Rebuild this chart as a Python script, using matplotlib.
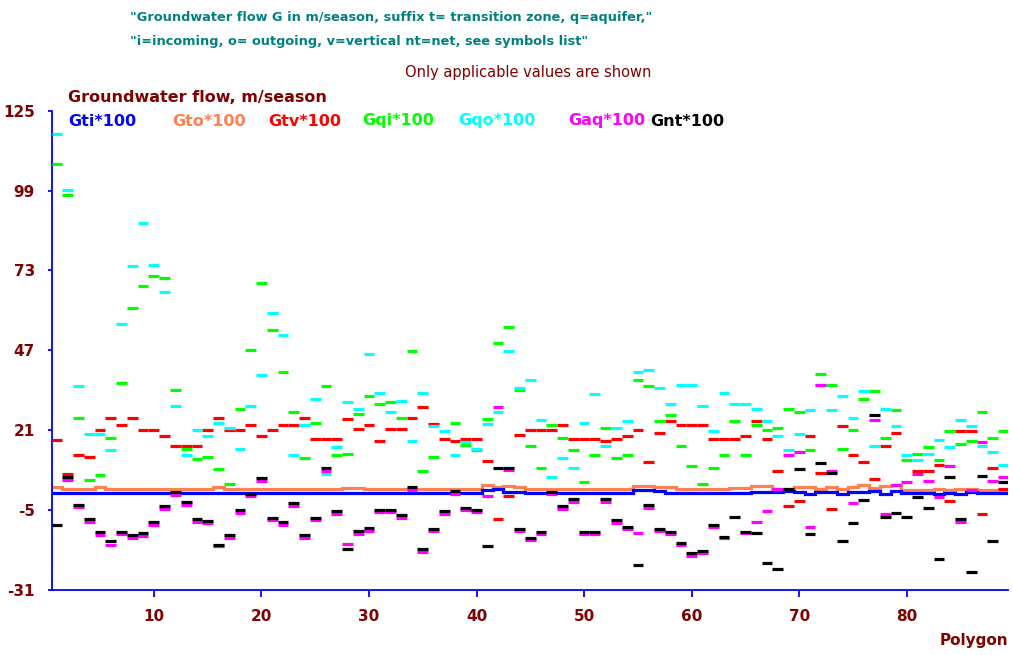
import numpy as np
import matplotlib
matplotlib.use("Agg")
import matplotlib.pyplot as plt

plt.rcParams["axes.unicode_minus"] = False

nan = np.nan

# polygon numbers
polygons = np.arange(1, 90)

# values (m/season * 100)
gti = [0.6, 0.6, 0.6, 0.6, 0.6, 0.6, 0.6, 0.6, 0.6, 0.6,
       0.6, 0.6, 0.6, 0.6, 0.6, 0.6, 0.6, 0.6, 0.6, 0.6,
       0.6, 0.6, 0.6, 0.6, 0.6, 0.6, 0.6, 0.6, 0.6, 0.6,
       0.6, 0.6, 0.6, 0.6, 0.6, 0.6, 0.6, 0.6, 0.6, 0.6,
       1.7, 2.0, 1.0, 1.0, 0.6, 0.6, 0.6, 0.6, 0.6, 0.6,
       0.6, 0.6, 0.6, 0.6, 1.7, 1.7, 1.2, 0.6, 0.6, 0.6,
       0.6, 0.6, 0.6, 0.6, 0.6, 1.0, 1.0, 1.0, 1.3, 1.0,
       0.4, 1.0, 1.0, 0.4, 1.0, 1.0, 1.3, 0.4, 1.3, 0.6,
       0.6, 0.6, 0.2, 0.6, 0.4, 1.0, 0.6, 0.6, 0.6]

gto = [2.4, 1.9, 1.9, 1.9, 2.4, 1.9, 1.9, 1.9, 1.9, 1.9,
       1.9, 1.9, 1.9, 1.9, 1.9, 2.4, 1.9, 1.9, 1.9, 1.9,
       1.9, 1.9, 1.9, 1.9, 1.9, 1.9, 1.9, 2.3, 2.3, 1.9,
       1.9, 1.9, 1.9, 1.9, 1.9, 1.9, 1.9, 1.9, 1.9, 1.9,
       3.2, 2.6, 3.0, 2.6, 1.8, 1.8, 1.8, 1.8, 1.8, 1.8,
       1.8, 1.8, 1.8, 1.8, 2.8, 2.8, 2.4, 2.4, 1.8, 1.8,
       1.8, 1.8, 1.8, 2.2, 2.2, 2.8, 2.8, 2.0, 2.0, 2.6,
       2.6, 1.8, 2.6, 2.0, 2.6, 3.1, 2.3, 2.8, 3.1, 1.7,
       1.7, 1.7, 2.0, 1.7, 2.0, 2.0, 1.7, 1.7, 1.7]

gtv = [17.8, 6.9, 13.0, 12.4, 21.2, 24.9, 22.8, 24.9, 21.2, 21.2,
       19.2, 16.0, 16.0, 16.0, 21.2, 24.9, 21.2, 21.2, 22.8, 19.2,
       21.2, 22.8, 22.8, 25.0, 18.2, 18.2, 18.2, 24.5, 21.3, 22.8,
       17.6, 21.3, 21.3, 25.0, 28.6, 23.0, 18.2, 17.6, 18.2, 18.2,
       10.9, -7.8, -0.4, 19.3, 21.2, 21.2, 21.2, 22.7, 18.2, 18.2,
       18.2, 17.6, 18.2, 19.2, 21.2, 10.8, 20.2, 23.9, 22.8, 22.8,
       22.8, 18.2, 18.2, 18.2, 19.2, 23.9, 18.2, 7.8, -3.6, -2.1,
       19.2, 7.2, -4.7, 22.3, 12.9, 10.8, 5.1, 16.0, 20.2, nan,
       7.8, 7.8, 9.8, -2.1, 20.7, 20.7, -6.1, 8.8, 2.0]

gqi = [107.6, 97.6, 24.9, 4.8, 6.3, 18.6, 36.3, 60.8, 68.0, 71.2,
       70.6, 34.2, 15.0, 11.5, 12.4, 8.3, 3.6, 28.0, 47.1, 68.9,
       53.5, 40.0, 27.0, 12.0, 23.4, 35.3, 12.9, 13.4, 26.4, 32.2,
       29.6, 30.1, 25.0, 46.8, 7.7, 12.3, nan, 23.4, 16.1, 14.5,
       24.5, 49.4, 54.5, 34.2, 16.0, 8.8, 22.7, 18.6, 14.5, 4.1,
       12.9, 21.8, 11.9, 12.9, 37.4, 35.4, 23.9, 25.9, 16.0, 9.3,
       3.6, 8.8, 12.9, 23.9, 12.9, 22.8, 21.2, 21.8, 27.9, 26.9,
       14.5, 39.4, 35.8, 15.0, 21.2, 31.1, 33.8, 18.6, 27.5, 11.4,
       13.4, 15.5, 11.4, 20.7, 16.6, 17.6, 26.9, 18.6, 20.7]

gqo = [117.4, 99.2, 35.3, 19.7, 19.7, 14.6, 55.6, 74.3, 88.3, 74.9,
       66.0, 29.0, 13.0, 21.2, 19.2, 23.4, 21.8, 15.0, 29.0, 39.0,
       59.2, 51.9, 12.9, 22.8, 31.2, 6.8, 15.6, 30.1, 28.0, 45.7,
       33.2, 27.0, 30.6, 17.6, 33.2, 22.3, 20.8, 12.9, 17.1, 15.0,
       23.0, 27.0, 46.7, 34.8, 37.4, 24.4, 5.7, 11.9, 8.8, 23.4,
       32.7, 16.0, 21.8, 23.9, 39.9, 40.5, 34.9, 29.6, 35.8, 35.8,
       29.0, 20.8, 33.2, 29.6, 29.6, 27.9, 23.9, 19.2, 14.5, 19.7,
       27.5, 35.8, 27.5, 32.2, 24.9, 33.8, 16.0, 27.9, 22.3, 12.9,
       11.4, 13.4, 17.9, 15.5, 24.4, 22.3, 16.0, 14.0, 9.8]

gaq = [nan, 4.8, -4.1, -8.9, -13.0, -16.2, -12.9, -14.0, -13.4, -9.9,
       -4.7, 0.0, -3.2, -8.9, -9.3, -16.8, -14.0, -5.8, -0.5, 4.6,
       -8.2, -9.8, -3.6, -14.1, -8.2, 7.8, -6.1, -16.0, -12.8, -11.7,
       -5.6, -5.6, -7.7, 1.6, -18.6, -11.9, -6.1, 0.1, -5.1, -5.6,
       -0.4, 28.6, 8.0, -11.9, -14.7, -12.9, 0.1, -4.7, -2.5, -12.9,
       -12.9, -2.5, -9.1, -11.3, -12.4, -4.2, -11.9, -12.9, -16.4, -19.8,
       -19.0, -10.5, -14.2, nan, -12.6, -8.8, -5.2, 2.0, 12.9, 14.0,
       -10.4, 35.8, 7.8, nan, -2.6, nan, 24.4, -6.3, 3.1, 4.1,
       6.7, 4.6, -0.7, 9.3, -8.8, 1.7, 17.1, 4.6, 5.8]

gnt = [-9.8, 5.7, -3.2, -7.9, -12.1, -15.2, -12.1, -13.1, -12.6, -8.9,
       -3.7, 1.0, -2.2, -7.9, -8.5, -16.2, -13.1, -4.8, 0.4, 5.6,
       -7.4, -8.8, -2.6, -13.1, -7.4, 8.8, -5.2, -17.6, -11.9, -10.9,
       -4.8, -4.8, -6.7, 2.6, -17.6, -11.0, -5.2, 1.2, -4.2, -4.8,
       -16.7, 8.8, 8.8, -11.0, -14.1, -12.0, 1.0, -3.7, -1.5, -12.0,
       -12.0, -1.5, -8.2, -10.4, -22.9, -3.4, -11.0, -12.0, -15.6, -19.1,
       -18.2, -9.7, -13.7, -7.2, -12.0, -12.4, -22.3, -24.3, 2.0, 8.3,
       -12.9, 10.4, 7.2, -15.1, -9.3, -1.7, 25.9, -7.2, -5.8, -7.2,
       -0.7, -4.2, -20.9, 5.7, -7.9, -25.0, 6.2, -15.1, 4.2]

legend_names = ["Gti*100", "Gto*100", "Gtv*100", "Gqi*100", "Gqo*100", "Gaq*100", "Gnt*100"]
colors = ["#0000FF", "#FF8050", "#FF0000", "#00FF00", "#00FFFF", "#FF00FF", "#000000"]
ytick_vals = [-31, -5, 21, 47, 73, 99, 125]
xtick_vals = [10, 20, 30, 40, 50, 60, 70, 80]

darkred = "#800000"
teal = "#008080"
blue = "#0000FF"

fig = plt.figure(figsize=(10.13, 6.55), dpi=100)
ax = fig.add_axes([0.051, 0.0992, 0.944, 0.7318])

edges = np.arange(0.5, 90.5, 1.0)
lw = 2.3

# continuous step lines for the transition zone flows
ax.stairs(gto, edges, baseline=None, color=colors[1], lw=lw, zorder=2)
ax.stairs(gti, edges, baseline=None, color=colors[0], lw=lw, zorder=3)

# the other series are short dashes, one per polygon
dash_series = [gtv, gqi, gqo, gaq, gnt]
for k, vals in enumerate(dash_series):
    v = np.array(vals, dtype=float)
    ok = ~np.isnan(v)
    ax.hlines(v[ok], polygons[ok] - 0.5, polygons[ok] + 0.5,
              colors=colors[k + 2], lw=lw, capstyle="butt", zorder=4 + k)

ax.set_xlim(0.5, 89.4)
ax.set_ylim(-31, 125)
ax.set_yticks(ytick_vals)
ax.set_xticks(xtick_vals)

for s in ["top", "right"]:
    ax.spines[s].set_visible(False)
for s in ["left", "bottom"]:
    ax.spines[s].set_color(blue)
    ax.spines[s].set_linewidth(1.3)

ax.tick_params(axis="y", colors=blue, labelcolor=darkred, length=3, width=1.3, pad=9)
ax.tick_params(axis="x", colors=blue, labelcolor=darkred, length=5, width=1.3, pad=9)
for lab in ax.get_xticklabels() + ax.get_yticklabels():
    lab.set_fontweight("bold")
    lab.set_fontsize(11)

# texts
fig.text(130 / 1013, 1 - 18 / 655,
         '"Groundwater flow G in m/season, suffix t= transition zone, q=aquifer,"',
         color=teal, fontsize=9.3, fontweight="bold", ha="left", va="center")
fig.text(130 / 1013, 1 - 42 / 655,
         '"i=incoming, o= outgoing, v=vertical nt=net, see symbols list"',
         color=teal, fontsize=9.3, fontweight="bold", ha="left", va="center")
fig.text(528 / 1013, 1 - 73 / 655, "Only applicable values are shown",
         color=darkred, fontsize=10.5, ha="center", va="center")
fig.text(68 / 1013, 1 - 97 / 655, "Groundwater flow, m/season",
         color=darkred, fontsize=11.5, fontweight="bold", ha="left", va="center")

legend_x = [68, 172, 268, 362, 458, 568, 650]
for name, c, lx in zip(legend_names, colors, legend_x):
    fig.text(lx / 1013, 1 - 121 / 655, name, color=c, fontsize=11.5,
             fontweight="bold", ha="left", va="center")

fig.text(1008 / 1013, 1 - 640 / 655, "Polygon", color=darkred, fontsize=11,
         fontweight="bold", ha="right", va="center")

fig.savefig("out.png", dpi=100, facecolor="white")
